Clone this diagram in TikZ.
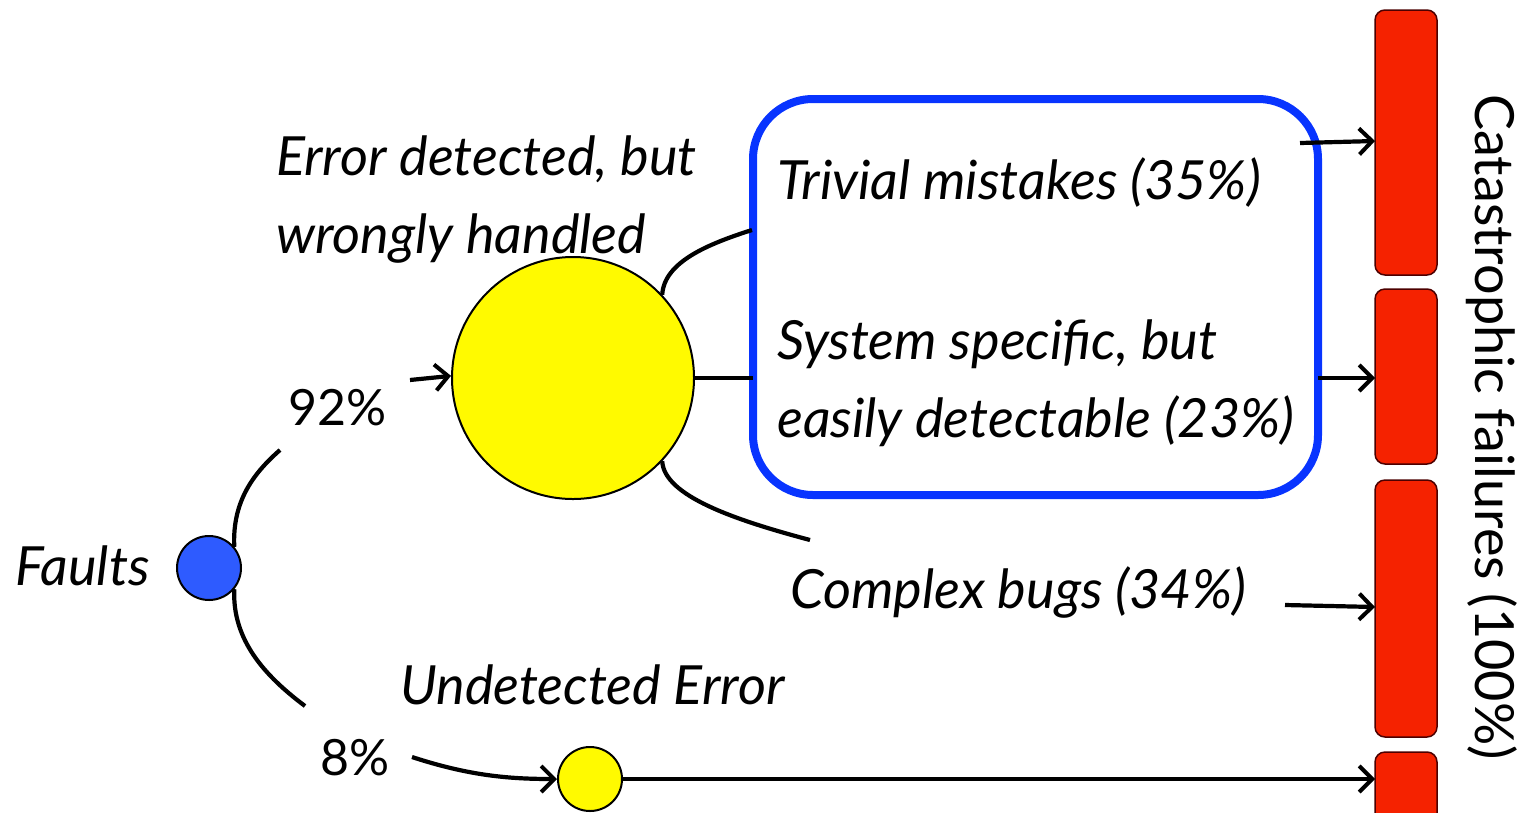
\documentclass[tikz,border=0pt]{standalone}
\usepackage{fontspec}
\setmainfont{Lato}
\usetikzlibrary{arrows.meta}
\definecolor{faultblue}{RGB}{46,91,255}
\definecolor{boxblue}{RGB}{8,52,255}
\definecolor{bady}{RGB}{255,250,0}
\definecolor{barred}{RGB}{245,34,0}
\tikzset{
  lbl/.style={font=\fontsize{54}{60}\selectfont\itshape, inner sep=0pt},
  pct/.style={font=\fontsize{50}{60}\selectfont, inner sep=0pt},
  cat/.style={font=\fontsize{54}{60}\selectfont, inner sep=0pt},
  conn/.style={line width=4.2pt},
  arr/.style={line width=4.2pt, -{Straight Barb[length=13pt,width=26pt,line width=4pt]}},
  bar/.style={draw=black!70!red, line width=1.5pt, fill=barred, rounded corners=10pt},
  dot/.style={circle, draw=black, line width=2pt, inner sep=0pt},
}
\begin{document}
\begin{tikzpicture}[x=1pt,y=-1pt]
\useasboundingbox (0,0) rectangle (1526,812);
% nodes
\node[dot, fill=faultblue, minimum size=64pt] (faults) at (209,568) {};
\node[dot, fill=bady, minimum size=242pt] (big) at (573,378) {};
\node[dot, fill=bady, minimum size=64pt] (small) at (590,779) {};
\draw[draw=boxblue, line width=8pt, rounded corners=60pt] (753,99) rectangle (1318,495);
% bars
\draw[bar] (1375,10) rectangle (1437,275);
\draw[bar] (1375,289) rectangle (1437,464);
\draw[bar] (1375,480) rectangle (1437,737);
\draw[bar] (1375,752) rectangle (1437,830);
\coordinate (b1) at (1375,141);
\coordinate (b2) at (1375,378);
\coordinate (b3) at (1375,607);
\coordinate (b4) at (1375,779);
% texts
\node[lbl, anchor=east] (tfaults) at (150,566) {Faults};
\node[lbl, anchor=west, align=left] (terr) at (276,200) {Error detected, but\\[18pt]wrongly handled};
\node[pct] (p92) at (338,408) {92\%};
\node[pct] (p8) at (355,758) {8\%};
\node[lbl, anchor=west] (tund) at (400,685) {Undetected Error};
\node[lbl, anchor=west] (ttriv) at (777,183) {Trivial mistakes (35\%)};
\node[lbl, anchor=west, align=left] (tsys) at (777,383) {System specific, but\\[18pt]easily detectable (23\%)};
\node[lbl, anchor=west] (tcomp) at (790,592) {Complex bugs (34\%)};
\node[cat, rotate=-90] (tcat) at (1492,427) {Catastrophic failures (100\%)};
% connector coordinates
\coordinate (c92end) at (280,450);
\coordinate (c8end) at (305,706);
\coordinate (a92s) at (410,380);
\coordinate (a8s) at (412,757);
\coordinate (btop) at (752,230);
\coordinate (bbot) at (810,540);
\coordinate (bmid) at (753,378);
\coordinate (bright) at (1318,378);
\coordinate (atop) at (1300,143);
\coordinate (acomp) at (1285,605);
% connectors
\draw[conn] (faults.40) .. controls (232,500) and (255,472) .. (c92end);
\draw[conn] (faults.-40) .. controls (232,640) and (265,676) .. (c8end);
\draw[arr] (a92s) -- (big.179);
\draw[arr] (a8s) .. controls (470,776) and (510,779) .. (small.west);
\draw[conn] (big.43) .. controls (664,262) and (708,244) .. (btop);
\draw[conn] (big.-43) .. controls (664,496) and (735,520) .. (bbot);
\draw[conn] (big.east) -- (bmid);
\draw[arr] (small.east) -- (b4);
\draw[arr] (atop) -- (b1);
\draw[arr] (bright) -- (b2);
\draw[arr] (acomp) -- (b3);
\end{tikzpicture}
\end{document}
